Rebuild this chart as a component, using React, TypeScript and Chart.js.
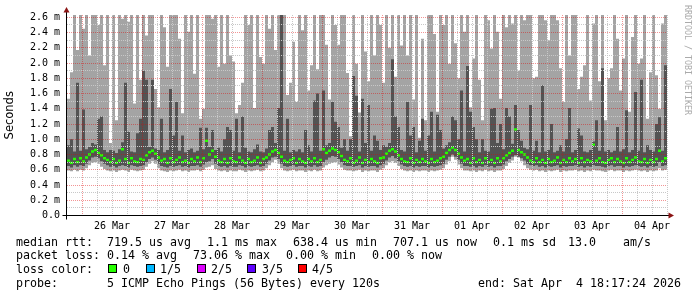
import React, { useEffect, useRef } from "react";
import { Chart, registerables } from "chart.js";

Chart.register(...registerables);

// value used for pings that go off the top of the graph (clipped)
const T = 2.8;

// ---- smoke data, one entry per column (1.2 h), 200 columns ----
// highest ping of the column (outer smoke top)
const maxPing = [
  1.53, 1.88, T, 2.17, T, 2.45, T, 2.10, T, T, 2.50, T, 1.97, T, 0.95, T, 1.25, T, 2.58, T,
  2.54, T, 1.47, T, 1.78, T, 2.36, T, T, 1.66, 1.42, T, 2.47, 1.95, T, T, T, 2.32, 1.34, T,
  2.41, T, 1.86, T, 1.27, 1.40, T, T, 2.58, T, 1.95, T, 1.99, T, 2.10, 2.02, 1.34, 1.45, 1.74, T,
  2.50, T, 1.41, T, 2.08, 1.99, T, 2.45, T, 2.17, T, T, T, 1.58, 1.74, 2.28, 1.49, T, 2.43, T,
  1.64, 1.97, T, 1.92, T, T, 2.24, 1.52, T, 2.50, 2.24, T, T, 1.87, 1.04, T, 1.99, 1.35, T, 2.15,
  1.76, T, 2.10, T, 2.50, 1.74, T, 2.20, T, 1.82, T, 2.23, T, 2.10, T, 1.52, T, 1.02, 2.32, 1.25,
  T, T, 2.38, 1.36, T, 2.50, T, 1.99, T, 2.26, 1.80, T, 2.41, T, 1.42, 2.06, T, 1.78, 1.25, T,
  2.56, 2.19, T, 2.41, 1.53, T, 2.47, T, 2.52, T, 1.90, T, 2.56, T, T, 1.80, 1.82, T, T, 2.56,
  2.30, T, T, 2.56, 1.93, 1.49, T, 2.10, T, T, 1.66, 1.82, 1.97, T, 1.51, 2.52, T, 1.76, T, 1.25,
  1.80, 1.93, T, 2.32, 1.64, 2.06, T, 1.36, 2.34, T, 1.99, 2.06, T, 1.27, 1.88, T, 1.84, 1.40, 2.52, T,
];

// top of the inner (dark) smoke band
const innerHigh = [
  0.92, 1.00, 0.84, 1.74, 0.85, 1.39, 0.87, 0.90, 0.95, 0.93, 1.27, 1.30, 0.86, 0.83, 0.86, 0.85, 0.82, 0.87, 0.96, 1.74,
  1.10, 0.84, 0.83, 1.08, 1.27, 1.90, 1.78, 0.90, 1.78, 0.88, 0.86, 1.27, 0.83, 0.86, 1.66, 1.05, 1.49, 0.85, 1.05, 0.83,
  0.86, 0.88, 0.83, 0.85, 1.15, 0.87, 1.15, 0.90, 1.12, 0.86, 0.89, 0.84, 1.00, 1.16, 1.12, 0.85, 1.27, 0.83, 1.30, 0.89,
  0.84, 0.83, 0.87, 0.93, 0.84, 0.83, 0.88, 1.12, 1.16, 0.95, 1.41, 2.70, 0.85, 1.27, 0.83, 0.86, 0.84, 0.87, 0.83, 1.12,
  0.92, 0.84, 1.51, 1.60, 0.85, 1.64, 0.92, 0.95, 1.49, 1.23, 1.16, 0.89, 1.00, 0.85, 1.00, 1.83, 1.57, 0.84, 1.53, 0.95,
  1.45, 0.85, 1.05, 0.98, 0.86, 0.92, 0.90, 0.95, 2.05, 1.30, 1.16, 0.86, 0.84, 1.49, 1.05, 1.16, 0.83, 0.98, 1.27, 0.85,
  1.05, 1.36, 0.84, 1.32, 1.12, 0.88, 0.92, 0.96, 1.30, 1.25, 1.00, 1.64, 0.84, 1.96, 1.36, 1.16, 1.00, 0.83, 1.00, 0.85,
  0.84, 1.40, 1.41, 0.95, 1.20, 0.87, 1.41, 1.30, 0.94, 1.45, 1.12, 0.98, 0.89, 0.87, 1.45, 0.85, 0.98, 0.83, 1.71, 0.84,
  0.86, 1.20, 0.83, 0.85, 0.92, 0.84, 1.00, 1.41, 0.83, 0.86, 1.14, 1.05, 0.84, 0.83, 0.86, 0.97, 1.25, 0.85, 1.93, 0.84,
  0.86, 0.83, 0.85, 1.16, 0.84, 0.87, 1.38, 0.83, 0.86, 1.62, 0.85, 1.78, 0.83, 0.92, 0.86, 0.84, 1.20, 1.29, 0.85, 1.97,
];

// median rtt (ms)
const median = [
  0.72, 0.69, 0.74, 0.70, 0.75, 0.71, 0.76, 0.80, 0.84, 0.86, 0.82, 0.79, 0.75, 0.73, 0.70, 0.74, 0.69, 0.72, 0.87, 0.74,
  0.69, 0.75, 0.71, 0.70, 0.74, 0.73, 0.79, 0.83, 0.85, 0.81, 0.76, 0.72, 0.74, 0.69, 0.75, 0.70, 0.73, 0.76, 0.70, 0.72,
  0.69, 0.74, 0.71, 0.76, 0.70, 0.75, 0.98, 0.80, 0.85, 0.77, 0.72, 0.70, 0.74, 0.69, 0.75, 0.71, 0.70, 0.76, 0.72, 0.69,
  0.74, 0.70, 0.72, 0.76, 0.69, 0.74, 0.76, 0.80, 0.84, 0.86, 0.82, 0.77, 0.72, 0.70, 0.73, 0.75, 0.69, 0.74, 0.71, 0.69,
  0.74, 0.71, 0.75, 0.70, 0.73, 0.87, 0.82, 0.85, 0.88, 0.86, 0.83, 0.78, 0.73, 0.71, 0.75, 0.69, 0.72, 0.76, 0.69, 0.73,
  0.70, 0.74, 0.71, 0.69, 0.75, 0.76, 0.81, 0.85, 0.87, 0.84, 0.79, 0.74, 0.71, 0.70, 0.75, 0.69, 0.73, 0.70, 0.74, 0.71,
  0.69, 0.74, 0.70, 0.72, 0.75, 0.77, 0.82, 0.86, 0.89, 0.86, 0.81, 0.76, 0.72, 0.74, 0.69, 0.75, 0.70, 0.73, 0.69, 0.75,
  0.70, 0.73, 0.69, 0.75, 0.71, 0.75, 0.79, 0.82, 0.85, 1.13, 0.86, 0.83, 0.80, 0.76, 0.72, 0.70, 0.75, 0.70, 0.73, 0.69,
  0.74, 0.70, 0.72, 0.76, 0.69, 0.73, 0.70, 0.75, 0.71, 0.74, 0.69, 0.75, 0.70, 0.73, 0.71, 0.93, 0.72, 0.75, 0.70, 0.69,
  0.73, 0.75, 0.70, 0.74, 0.71, 0.69, 0.75, 0.70, 0.73, 0.76, 0.71, 0.70, 0.74, 0.69, 0.73, 0.70, 0.74, 0.85, 0.71, 0.75,
];

// bottom of the inner (dark) smoke band
const innerLow = [
  0.65, 0.63, 0.66, 0.64, 0.66, 0.65, 0.68, 0.72, 0.76, 0.77, 0.75, 0.71, 0.68, 0.66, 0.64, 0.65, 0.63, 0.65, 0.66, 0.65,
  0.63, 0.66, 0.65, 0.64, 0.65, 0.66, 0.70, 0.74, 0.76, 0.73, 0.68, 0.65, 0.64, 0.63, 0.65, 0.64, 0.65, 0.66, 0.64, 0.65,
  0.63, 0.65, 0.65, 0.66, 0.64, 0.67, 0.70, 0.71, 0.74, 0.68, 0.65, 0.64, 0.65, 0.63, 0.65, 0.64, 0.64, 0.66, 0.65, 0.63,
  0.65, 0.64, 0.65, 0.66, 0.64, 0.65, 0.68, 0.72, 0.76, 0.77, 0.74, 0.68, 0.65, 0.64, 0.65, 0.66, 0.64, 0.65, 0.65, 0.63,
  0.65, 0.64, 0.66, 0.64, 0.65, 0.70, 0.73, 0.76, 0.78, 0.77, 0.74, 0.70, 0.66, 0.65, 0.65, 0.64, 0.65, 0.66, 0.63, 0.65,
  0.64, 0.65, 0.65, 0.63, 0.66, 0.68, 0.72, 0.76, 0.78, 0.75, 0.71, 0.67, 0.65, 0.64, 0.65, 0.63, 0.65, 0.64, 0.65, 0.65,
  0.63, 0.65, 0.64, 0.65, 0.66, 0.68, 0.73, 0.77, 0.80, 0.77, 0.73, 0.68, 0.65, 0.65, 0.64, 0.65, 0.63, 0.65, 0.64, 0.66,
  0.64, 0.65, 0.63, 0.65, 0.65, 0.67, 0.71, 0.74, 0.77, 0.79, 0.77, 0.75, 0.72, 0.68, 0.66, 0.65, 0.66, 0.64, 0.65, 0.63,
  0.65, 0.64, 0.65, 0.66, 0.63, 0.65, 0.64, 0.65, 0.65, 0.66, 0.64, 0.65, 0.63, 0.65, 0.64, 0.66, 0.65, 0.65, 0.64, 0.63,
  0.65, 0.66, 0.64, 0.65, 0.65, 0.63, 0.65, 0.64, 0.65, 0.66, 0.65, 0.64, 0.65, 0.63, 0.65, 0.64, 0.65, 0.70, 0.65, 0.66,
];

// lowest ping of the column (outer smoke bottom)
const minPing = [
  0.59, 0.58, 0.60, 0.58, 0.60, 0.59, 0.62, 0.66, 0.69, 0.70, 0.68, 0.64, 0.61, 0.59, 0.58, 0.59, 0.57, 0.59, 0.60, 0.59,
  0.57, 0.60, 0.59, 0.58, 0.59, 0.60, 0.64, 0.68, 0.71, 0.68, 0.62, 0.59, 0.58, 0.57, 0.59, 0.58, 0.59, 0.60, 0.58, 0.59,
  0.57, 0.59, 0.59, 0.60, 0.58, 0.60, 0.63, 0.64, 0.66, 0.61, 0.59, 0.58, 0.59, 0.57, 0.59, 0.58, 0.58, 0.60, 0.59, 0.57,
  0.59, 0.58, 0.59, 0.60, 0.58, 0.59, 0.62, 0.66, 0.70, 0.73, 0.68, 0.62, 0.59, 0.58, 0.59, 0.60, 0.58, 0.59, 0.59, 0.57,
  0.59, 0.58, 0.60, 0.58, 0.59, 0.63, 0.66, 0.68, 0.69, 0.70, 0.67, 0.63, 0.60, 0.59, 0.59, 0.58, 0.59, 0.60, 0.57, 0.59,
  0.58, 0.59, 0.59, 0.57, 0.60, 0.62, 0.66, 0.70, 0.71, 0.69, 0.65, 0.61, 0.59, 0.58, 0.59, 0.57, 0.59, 0.58, 0.59, 0.59,
  0.57, 0.59, 0.58, 0.59, 0.60, 0.62, 0.67, 0.71, 0.77, 0.73, 0.67, 0.62, 0.59, 0.59, 0.58, 0.59, 0.57, 0.59, 0.58, 0.60,
  0.58, 0.59, 0.57, 0.59, 0.59, 0.61, 0.65, 0.69, 0.72, 0.77, 0.76, 0.71, 0.66, 0.62, 0.60, 0.59, 0.60, 0.58, 0.59, 0.57,
  0.59, 0.58, 0.59, 0.60, 0.57, 0.59, 0.58, 0.59, 0.59, 0.60, 0.58, 0.59, 0.57, 0.59, 0.58, 0.60, 0.59, 0.59, 0.58, 0.57,
  0.59, 0.60, 0.58, 0.59, 0.59, 0.57, 0.59, 0.58, 0.59, 0.60, 0.59, 0.58, 0.59, 0.57, 0.59, 0.58, 0.59, 0.62, 0.59, 0.60,
];

// ---- axes ----
const COLUMN_HOURS = 1.2; // hours covered by one column
const X_MAX_HOURS = 240; // 10 days, starting Mar 25 18:00
const xGridHours = [
  6, 12, 18, 24, 30, 36, 42, 48, 54, 60, 66, 72, 78, 84, 90, 96, 102, 108, 114, 120,
  126, 132, 138, 144, 150, 156, 162, 168, 174, 180, 186, 192, 198, 204, 210, 216, 222, 228, 234, 240,
];
const dayLabelHours = [18, 42, 66, 90, 114, 138, 162, 186, 210, 234];
const dayLabels = ["26 Mar", "27 Mar", "28 Mar", "29 Mar", "30 Mar", "31 Mar", "01 Apr", "02 Apr", "03 Apr", "04 Apr"];

const Y_MAX = 2.63;
const yGridValues = [
  0, 0.1, 0.2, 0.3, 0.4, 0.5, 0.6, 0.7, 0.8, 0.9, 1.0, 1.1, 1.2, 1.3,
  1.4, 1.5, 1.6, 1.7, 1.8, 1.9, 2.0, 2.1, 2.2, 2.3, 2.4, 2.5, 2.6,
];
const yLabels = ["0.0", "0.2 m", "0.4 m", "0.6 m", "0.8 m", "1.0 m", "1.2 m", "1.4 m", "1.6 m", "1.8 m", "2.0 m", "2.2 m", "2.4 m", "2.6 m"];

// ---- legend ----
const rttTexts = ["median rtt:", "719.5 us avg", "1.1 ms max", "638.4 us min", "707.1 us now", "0.1 ms sd", "13.0", "am/s"];
const lossTexts = ["packet loss:", "0.14 % avg", "73.06 % max", "0.00 % min", "0.00 % now"];
const lossColorTitle = "loss color:";
const lossColorLabels = ["0", "1/5", "2/5", "3/5", "4/5"];
const lossColors = ["#26ff00", "#00b8ff", "#dd00ff", "#5e00ff", "#ff0000"];
const probeTexts = ["probe:", "5 ICMP Echo Pings (56 Bytes) every 120s", "end: Sat Apr  4 18:17:24 2026"];
const watermark = "RRDTOOL / TOBI OETIKER";

// layout (pixels)
const rttX = [16, 107, 207, 293, 393, 493, 568, 623];
const lossX = [16, 107, 193, 286, 372];
const swatchX = [108, 146, 197, 247, 298];
const swatchLabelX = [123, 160, 211, 262, 312];
const probeX = [16, 107, 478];
const rowTop = [234.7, 248.4, 262.1, 275.8];

const SMOKE_OUTER = "#a4a4a4";
const SMOKE_INNER = "#535353";
const MEDIAN_COLOR = "#26ff00";
const MEDIAN_HALF = 0.016;
const GRID_MAJOR = "rgba(225,0,0,0.42)";
const GRID_MINOR = "#c8c8c8";
const MONO = '"DejaVu Sans Mono", monospace';

const axesPlugin = {
  id: "rrdAxes",
  afterDraw(chart: any) {
    const { ctx, chartArea: a } = chart;
    const x0 = Math.round(a.left) - 0.5;
    const y0 = Math.floor(chart.scales.y.getPixelForValue(0)) + 0.5;
    ctx.save();
    ctx.strokeStyle = "#000";
    ctx.lineWidth = 1;
    ctx.beginPath();
    ctx.moveTo(x0, a.top - 3);
    ctx.lineTo(x0, y0 + 4);
    ctx.moveTo(x0 - 4, y0);
    ctx.lineTo(a.right + 2, y0);
    ctx.stroke();
    ctx.fillStyle = "#8b1414";
    ctx.beginPath();
    ctx.moveTo(x0, a.top - 8);
    ctx.lineTo(x0 - 3, a.top - 2.5);
    ctx.lineTo(x0 + 3, a.top - 2.5);
    ctx.closePath();
    ctx.fill();
    ctx.beginPath();
    ctx.moveTo(a.right + 7, y0);
    ctx.lineTo(a.right + 1.5, y0 - 3);
    ctx.lineTo(a.right + 1.5, y0 + 3);
    ctx.closePath();
    ctx.fill();
    ctx.restore();
  },
};

export default function App() {
  const canvasRef = useRef<HTMLCanvasElement | null>(null);

  useEffect(() => {
    const canvas = canvasRef.current;
    if (!canvas) return;
    const xAt = (i: number) => (i + 0.5) * COLUMN_HOURS;
    const outer = maxPing.map((hi, i) => ({ x: xAt(i), y: [minPing[i], hi] }));
    const inner = innerHigh.map((hi, i) => ({ x: xAt(i), y: [innerLow[i], hi] }));
    const med = median.map((m, i) => ({ x: xAt(i), y: [m - MEDIAN_HALF, m + MEDIAN_HALF] }));
    const common = { barThickness: 3, grouped: false, borderWidth: 0, inflateAmount: 0, clip: 0 };

    const chart = new Chart(canvas, {
      type: "bar",
      data: {
        datasets: [
          { label: "median", data: med, backgroundColor: MEDIAN_COLOR, order: 0, ...common },
          { label: "inner", data: inner, backgroundColor: SMOKE_INNER, order: 1, ...common },
          { label: "outer", data: outer, backgroundColor: SMOKE_OUTER, order: 2, ...common },
        ] as any,
      },
      options: {
        animation: false,
        responsive: false,
        maintainAspectRatio: false,
        devicePixelRatio: 1,
        events: [],
        layout: { padding: { top: 15, right: 30, bottom: 0, left: 0 } },
        plugins: { legend: { display: false }, tooltip: { enabled: false } },
        scales: {
          x: {
            type: "linear",
            min: 0,
            max: X_MAX_HOURS,
            offset: false,
            bounds: "data",
            afterBuildTicks: (s: any) => {
              s.ticks = xGridHours.map((v) => ({ value: v }));
            },
            afterFit: (s: any) => {
              s.height = 81.5;
            },
            grid: {
              z: 1,
              offset: false,
              drawTicks: false,
              lineWidth: 1,
              color: (c: any) => (c.tick && c.tick.value % 24 === 6 ? GRID_MAJOR : GRID_MINOR),
            },
            border: { display: false, dash: [1, 1] },
            ticks: {
              autoSkip: false,
              maxRotation: 0,
              minRotation: 0,
              padding: 5,
              color: "#000",
              font: { family: MONO, size: 10 },
              callback: (v: any) => {
                const k = dayLabelHours.indexOf(Number(v));
                return k >= 0 ? dayLabels[k] : "";
              },
            },
          },
          y: {
            type: "linear",
            min: 0,
            max: Y_MAX,
            bounds: "data",
            afterBuildTicks: (s: any) => {
              s.ticks = yGridValues.map((v) => ({ value: v }));
            },
            afterFit: (s: any) => {
              s.width = 67;
            },
            grid: {
              z: 1,
              drawTicks: false,
              lineWidth: 1,
              color: (c: any) => (c.index % 2 === 0 ? GRID_MAJOR : GRID_MINOR),
            },
            border: { display: false, dash: [1, 1] },
            title: {
              display: true,
              text: "Seconds",
              color: "#000",
              font: { family: '"DejaVu Sans", sans-serif', size: 11.5 },
              padding: { top: 3, bottom: 0 },
            },
            ticks: {
              autoSkip: false,
              padding: 7,
              color: "#000",
              font: { family: MONO, size: 10 },
              callback: (_v: any, i: number) => (i % 2 === 0 ? yLabels[i / 2] : ""),
            },
          },
        },
      } as any,
      plugins: [axesPlugin],
    });
    return () => chart.destroy();
  }, []);

  const textStyle = (left: number, top: number): React.CSSProperties => ({
    position: "absolute",
    left,
    top,
    fontFamily: MONO,
    fontSize: 11.63,
    lineHeight: "14px",
    whiteSpace: "pre",
    color: "#000",
  });

  return (
    <div style={{ position: "absolute", left: 0, top: 0, width: 697, height: 297, background: "#fff", overflow: "hidden" }}>
      <canvas ref={canvasRef} width={697} height={297} style={{ position: "absolute", left: 0, top: 0, display: "block" }} />
      {rttTexts.map((t, i) => (
        <span key={"r" + i} style={textStyle(rttX[i], rowTop[0])}>{t}</span>
      ))}
      {lossTexts.map((t, i) => (
        <span key={"l" + i} style={textStyle(lossX[i], rowTop[1])}>{t}</span>
      ))}
      <span style={textStyle(16, rowTop[2])}>{lossColorTitle}</span>
      {lossColorLabels.map((t, i) => (
        <React.Fragment key={"c" + i}>
          <span
            style={{
              position: "absolute",
              left: swatchX[i],
              top: 264,
              width: 9,
              height: 9,
              boxSizing: "border-box",
              border: "1px solid #000",
              background: lossColors[i],
            }}
          />
          <span style={textStyle(swatchLabelX[i], rowTop[2])}>{t}</span>
        </React.Fragment>
      ))}
      {probeTexts.map((t, i) => (
        <span key={"p" + i} style={textStyle(probeX[i], rowTop[3])}>{t}</span>
      ))}
      <div
        style={{
          position: "absolute",
          left: 683.3,
          top: 5,
          writingMode: "vertical-rl",
          fontFamily: MONO,
          fontSize: 8.3,
          lineHeight: "10px",
          color: "#aaaaaa",
          whiteSpace: "pre",
        }}
      >
        {watermark}
      </div>
    </div>
  );
}
